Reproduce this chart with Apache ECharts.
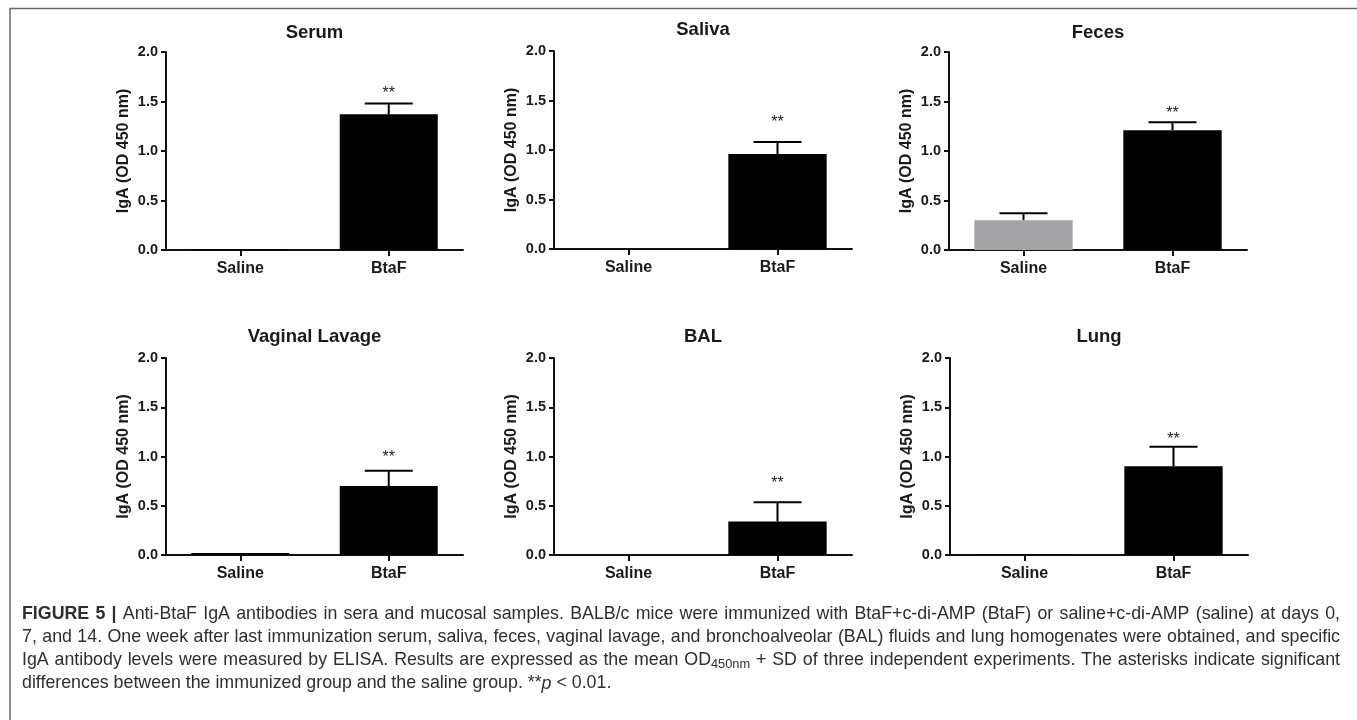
<!DOCTYPE html>
<html>
<head>
<meta charset="utf-8">
<script src="https://cdn.jsdelivr.net/npm/echarts@6/dist/echarts.min.js"></script>
<style>
html,body{margin:0;padding:0;background:#fff;}
#chart{width:1357px;height:720px;}
</style>
</head>
<body>
<div id="chart"></div>
<script>
// ---------------- DATA ----------------
const panels = ['Serum', 'Saliva', 'Feces', 'Vaginal Lavage', 'BAL', 'Lung'];
const categories = ['Saline', 'BtaF'];
const salineMean = [0.01, 0.0, 0.30, 0.02, 0.0, 0.01];
const salineSD   = [0.0, 0.0, 0.07, 0.0, 0.0, 0.0];
const btafMean   = [1.37, 0.96, 1.21, 0.70, 0.34, 0.90];
const btafSD     = [0.11, 0.12, 0.08, 0.155, 0.195, 0.20];
const sigLabel   = ['**', '**', '**', '**', '**', '**'];
const sigHeight  = [1.58, 1.28, 1.38, 0.985, 0.73, 1.17];
const yTickLabels = ['0.0', '0.5', '1.0', '1.5', '2.0'];
const yAxisTitle = 'IgA (OD 450 nm)';
const captionLines = [
  'FIGURE 5 | Anti-BtaF IgA antibodies in sera and mucosal samples. BALB/c mice were immunized with BtaF+c-di-AMP (BtaF) or saline+c-di-AMP (saline) at days 0,',
  '7, and 14. One week after last immunization serum, saliva, feces, vaginal lavage, and bronchoalveolar (BAL) fluids and lung homogenates were obtained, and specific',
  'IgA antibody levels were measured by ELISA. Results are expressed as the mean OD_450nm + SD of three independent experiments. The asterisks indicate significant',
  'differences between the immunized group and the saline group. **~p < 0.01.'
];

// ---------------- LAYOUT / STYLE ----------------
const FONT = '"Liberation Sans", Arial, Helvetica, sans-serif';
const gridLayout = [
  {left: 166, top: 52, width: 297, height: 198, titleY: 23},
  {left: 554, top: 51, width: 298, height: 198, titleY: 20},
  {left: 949, top: 52, width: 298, height: 198, titleY: 23},
  {left: 166, top: 358, width: 297, height: 197, titleY: 327},
  {left: 554, top: 358, width: 298, height: 197, titleY: 327},
  {left: 950, top: 358, width: 298, height: 197, titleY: 327}
];
function barColor(panel, cat) {
  return (panel === 'Feces' && cat === 'Saline') ? '#a4a4a7' : '#000000';
}
const axisColor = '#111';
const textColor = '#1a1a1a';

const grids = [], xAxes = [], yAxes = [], series = [], titles = [];
panels.forEach((name, i) => {
  const g = gridLayout[i];
  grids.push({left: g.left, top: g.top, width: g.width, height: g.height, containLabel: false});
  titles.push({
    text: name, left: g.left + g.width / 2, top: g.titleY, textAlign: 'center', padding: 0,
    textStyle: {fontFamily: FONT, fontWeight: 'bold', fontSize: 18.5, color: textColor}
  });
  xAxes.push({
    type: 'category', gridIndex: i, data: categories, boundaryGap: true,
    axisLine: {show: true, lineStyle: {color: axisColor, width: 2}},
    axisTick: {show: true, alignWithLabel: true, length: 6, lineStyle: {color: axisColor, width: 2}},
    axisLabel: {fontFamily: FONT, fontWeight: 'bold', fontSize: 16, color: textColor, margin: 11},
    splitLine: {show: false}
  });
  yAxes.push({
    type: 'value', gridIndex: i, min: 0, max: 2, interval: 0.5,
    name: yAxisTitle, nameLocation: 'middle', nameRotate: 90, nameGap: 34,
    nameTextStyle: {fontFamily: FONT, fontWeight: 'bold', fontSize: 16, color: textColor},
    axisLine: {show: true, lineStyle: {color: axisColor, width: 2}},
    axisTick: {show: true, length: 5, lineStyle: {color: axisColor, width: 2}},
    axisLabel: {
      fontFamily: FONT, fontWeight: 'bold', fontSize: 14.5, color: textColor, margin: 8,
      formatter: (v) => yTickLabels[Math.round(v / 0.5)]
    },
    splitLine: {show: false}
  });
  const means = [salineMean[i], btafMean[i]];
  const sds = [salineSD[i], btafSD[i]];
  series.push({
    type: 'bar', xAxisIndex: i, yAxisIndex: i, barWidth: '66%',
    data: categories.map((c, k) => ({value: means[k], itemStyle: {color: barColor(name, c)}})),
    silent: true, animation: false
  });
  series.push({
    type: 'custom', xAxisIndex: i, yAxisIndex: i, silent: true, animation: false,
    data: categories.map((c, k) => [k, means[k], sds[k]]).filter(d => d[2] > 0),
    renderItem: (params, api) => {
      const x = api.value(0), m = api.value(1), sd = api.value(2);
      const p0 = api.coord([x, m]);
      const p1 = api.coord([x, m + sd]);
      const half = 24;
      const st = {stroke: '#000', lineWidth: 2};
      return {type: 'group', children: [
        {type: 'line', shape: {x1: p0[0], y1: p0[1], x2: p1[0], y2: p1[1]}, style: st},
        {type: 'line', shape: {x1: p1[0] - half, y1: p1[1], x2: p1[0] + half, y2: p1[1]}, style: st}
      ]};
    }
  });
  series.push({
    type: 'custom', xAxisIndex: i, yAxisIndex: i, silent: true, animation: false,
    data: [[1, sigHeight[i]]],
    renderItem: (params, api) => {
      const p = api.coord([api.value(0), api.value(1)]);
      return {type: 'text', style: {
        text: sigLabel[i], x: p[0], y: p[1], align: 'center', verticalAlign: 'middle',
        font: '16px ' + FONT, fill: '#222'
      }};
    }
  });
});

// ---------------- CAPTION (justified) ----------------
const capLeft = 22, capRight = 1340, capTop = 614, capLineH = 23.2;
const capColor = '#2e2e2e';
const mctx = document.createElement('canvas').getContext('2d');
function fontStr(size, bold, italic) {
  return (italic ? 'italic ' : '') + (bold ? 'bold ' : '') + size + 'px ' + FONT;
}
function measure(t, f) { mctx.font = f; return mctx.measureText(t).width; }
function parseLine(line, li, size) {
  const words = line.split(' ');
  return words.map((w, wi) => {
    const bold = (li === 0 && wi < 3);
    const pieces = [];
    if (w.indexOf('_') >= 0) {
      const [a, b] = w.split('_');
      pieces.push({t: a, f: fontStr(size, bold, false), dy: 0});
      pieces.push({t: b, f: fontStr(size * 0.72, bold, false), dy: 4});
    } else if (w.indexOf('~') >= 0) {
      const [a, b] = w.split('~');
      pieces.push({t: a, f: fontStr(size, bold, false), dy: 0});
      pieces.push({t: b, f: fontStr(size, bold, true), dy: 0});
    } else {
      pieces.push({t: w, f: fontStr(size, bold, false), dy: 0});
    }
    pieces.forEach(p => p.w = measure(p.t, p.f));
    return {pieces, w: pieces.reduce((s, p) => s + p.w, 0)};
  });
}
const targetW = capRight - capLeft;
// choose the largest font size at which every justified line still fits
let capSize = 30;
for (let li = 0; li < 3; li++) {
  const base = 15;
  const ws = parseLine(captionLines[li], li, base);
  const nat = ws.reduce((s, w) => s + w.w, 0) + (ws.length - 1) * measure(' ', fontStr(base));
  capSize = Math.min(capSize, base * targetW / nat * 0.995);
}
capSize = Math.round(capSize * 10) / 10;
const graphics = [];
graphics.push({type: 'rect', left: 7.5, top: 6, shape: {x: 0, y: 0, width: 1348, height: 760},
  style: {fill: 'none', stroke: '#6a6a6a', lineWidth: 1.5}, silent: true, z: 0});
captionLines.forEach((line, li) => {
  const ws = parseLine(line, li, capSize);
  const sum = ws.reduce((s, w) => s + w.w, 0);
  const gap = (li < captionLines.length - 1) ? (targetW - sum) / (ws.length - 1) : measure(' ', fontStr(capSize));
  let x = capLeft;
  const y = capTop + li * capLineH;
  ws.forEach(w => {
    w.pieces.forEach(p => {
      graphics.push({type: 'text', x: x, y: y + p.dy, silent: true,
        style: {text: p.t, font: p.f, fill: capColor, align: 'left', verticalAlign: 'middle'}});
      x += p.w;
    });
    x += gap;
  });
});

const chart = echarts.init(document.getElementById('chart'), null, {renderer: 'canvas'});
chart.setOption({
  backgroundColor: '#ffffff',
  animation: false,
  title: titles,
  grid: grids,
  xAxis: xAxes,
  yAxis: yAxes,
  series: series,
  graphic: graphics
});
</script>
</body>
</html>
